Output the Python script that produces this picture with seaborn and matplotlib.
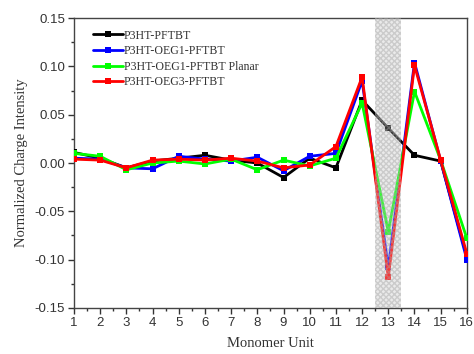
import numpy as np
import pandas as pd
import matplotlib
matplotlib.use("Agg")
import matplotlib.pyplot as plt
import seaborn as sns
from matplotlib.ticker import MultipleLocator

monomers = list(range(1, 17))
series_names = ["P3HT-PFTBT", "P3HT-OEG1-PFTBT", "P3HT-OEG1-PFTBT Planar", "P3HT-OEG3-PFTBT"]
p3ht_pftbt = [0.011, 0.005, -0.005, 0.002, 0.005, 0.008, 0.003, 0.000, -0.015, 0.005, -0.005, 0.065, 0.036, 0.008, 0.002, -0.097]
p3ht_oeg1 = [0.005, 0.004, -0.005, -0.006, 0.007, 0.004, 0.002, 0.006, -0.008, 0.007, 0.010, 0.085, -0.108, 0.104, 0.002, -0.100]
p3ht_oeg1_planar = [0.010, 0.007, -0.007, 0.000, 0.002, -0.001, 0.004, -0.007, 0.003, -0.003, 0.005, 0.062, -0.071, 0.074, 0.003, -0.078]
p3ht_oeg3 = [0.004, 0.003, -0.005, 0.003, 0.004, 0.003, 0.005, 0.002, -0.005, -0.002, 0.017, 0.089, -0.118, 0.101, 0.003, -0.094]
colors = ["#000000", "#0000ff", "#00ff00", "#ff0000"]

df = pd.concat([
    pd.DataFrame({"Monomer": monomers, "Charge": vals, "Series": name})
    for name, vals in zip(series_names, [p3ht_pftbt, p3ht_oeg1, p3ht_oeg1_planar, p3ht_oeg3])
])

sns.set_style("white")
fig = plt.figure(figsize=(4.74, 3.54), dpi=100)
ax = fig.add_axes([0.156, 0.130, 0.829, 0.819])

ax.axvspan(12.5, 13.5, facecolor="#eeeeee", linewidth=0, zorder=0)

sns.lineplot(data=df, x="Monomer", y="Charge", hue="Series", hue_order=series_names,
             palette=colors, style="Series", markers=["s"] * 4, dashes=False,
             markersize=5, markeredgewidth=0, linewidth=2, ax=ax, zorder=3)

ax.axvspan(12.5, 13.5, facecolor=(0.88, 0.88, 0.88, 0.25), edgecolor=(0.65, 0.65, 0.65, 0.45),
           hatch="xxxxxx", linewidth=0, zorder=4)

ax.set_xlim(1, 16)
ax.set_ylim(-0.15, 0.15)
ax.xaxis.set_major_locator(MultipleLocator(1))
ax.xaxis.set_minor_locator(MultipleLocator(0.5))
ax.yaxis.set_major_locator(MultipleLocator(0.05))
ax.yaxis.set_minor_locator(MultipleLocator(0.025))
ax.set_yticks(ax.get_yticks())
ax.set_yticklabels([f"{v:.2f}" for v in ax.get_yticks()])
ax.set_ylim(-0.15, 0.15)

ax.tick_params(axis="both", which="major", direction="out", length=4, width=1, color="#333333",
               labelsize=9.5, bottom=True, left=True, top=False, right=False, pad=2.5)
ax.tick_params(axis="both", which="minor", direction="out", length=2.5, width=1, color="#333333",
               bottom=True, left=True, top=False, right=False)
for lbl in ax.get_xticklabels() + ax.get_yticklabels():
    lbl.set_fontfamily("Liberation Sans")
    lbl.set_color("#333333")
for sp in ax.spines.values():
    sp.set_color("#444444")
    sp.set_linewidth(1)

ax.set_xlabel("Monomer Unit", family="Liberation Serif", fontsize=10.5, color="#333333", labelpad=6)
ax.set_ylabel("Normalized Charge Intensity", family="Liberation Serif", fontsize=10.5, color="#333333", labelpad=5)

leg = ax.legend(loc="upper left", bbox_to_anchor=(0.03, 0.985), frameon=False,
                prop={"family": "Liberation Serif", "size": 8.6}, handlelength=2.5,
                handletextpad=0.1, labelspacing=0.3, borderaxespad=0.2)
for h in leg.legend_handles:
    h.set_linewidth(2)
    h.set_markersize(5)
for t in leg.get_texts():
    t.set_color("#333333")

fig.savefig("out.png", dpi=100)
